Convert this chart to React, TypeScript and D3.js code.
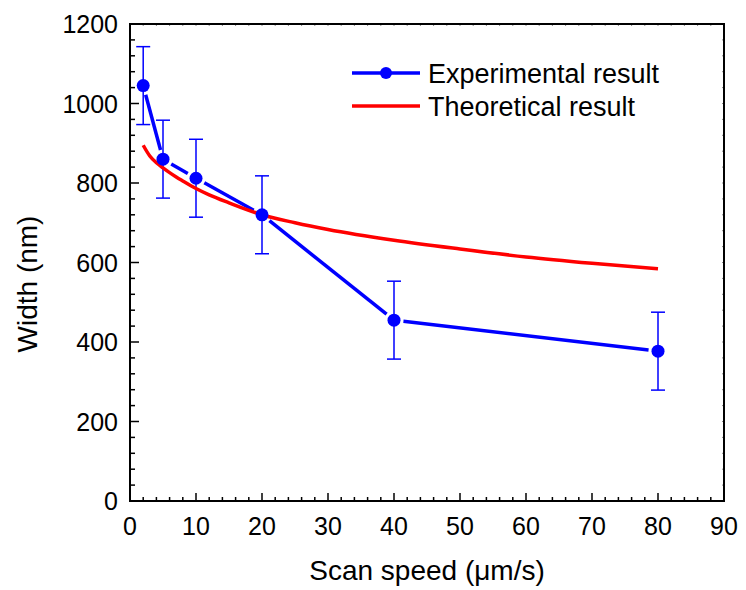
import React from "react";
import * as d3 from "d3";

const speeds = [2, 5, 10, 20, 40, 80];
const widths = [1045, 860, 812, 720, 455, 377];
const errors = [98, 98, 98, 98, 98, 98];

const theoX = [2, 3, 4, 5, 6, 7, 8, 10, 12, 15, 20, 25, 30, 40, 50, 60, 70, 80];
const theoY = [895, 868, 851, 838, 826, 815, 805, 786, 770, 750, 720, 700, 683, 656, 634, 614, 598, 584];

const xTicks = [0, 10, 20, 30, 40, 50, 60, 70, 80, 90];
const yTicks = [0, 200, 400, 600, 800, 1000, 1200];

const legendLabels = ["Experimental result", "Theoretical result"];
const xTitle = "Scan speed (\u03bcm/s)";
const yTitle = "Width (nm)";

const W = 746, H = 590;
const L = 130, R = 724, T = 24, B = 501;
const FONT = "Liberation Sans, Arial, sans-serif";

export default function App() {
  const x = d3.scaleLinear().domain([0, 90]).range([L, R]);
  const y = d3.scaleLinear().domain([0, 1200]).range([B, T]);

  const xMinor = d3.range(0, 91, 2);
  const yMinor = d3.range(0, 1201, 40);

  const theoLine = d3.line<number>()
    .x((_, i) => x(theoX[i]))
    .y((d) => y(d))
    .curve(d3.curveMonotoneX)(theoY) as string;

  const pts = speeds.map((s, i) => [x(s), y(widths[i])]);
  const r = 6.5;
  const gap = r + 3;
  const segs = pts.slice(0, -1).map((p, i) => {
    const q = pts[i + 1];
    const dx = q[0] - p[0], dy = q[1] - p[1];
    const len = Math.hypot(dx, dy);
    const ux = dx / len, uy = dy / len;
    return [p[0] + ux * gap, p[1] + uy * gap, q[0] - ux * gap, q[1] - uy * gap];
  });

  return (
    <svg width={W} height={H} style={{ position: "absolute", left: 0, top: 0, background: "#fff" }}>
      <defs>
        <clipPath id="plot"><rect x={L} y={T} width={R - L} height={B - T} /></clipPath>
      </defs>
      {xMinor.map((v) => {
        const major = v % 10 === 0;
        return (
          <g key={"xm" + v}>
            <line x1={x(v)} x2={x(v)} y1={B} y2={B - (major ? 8 : 4)} stroke="#000" strokeWidth={1.5} />
            <line x1={x(v)} x2={x(v)} y1={T} y2={T + 2} stroke="#888" strokeWidth={1} />
          </g>
        );
      })}
      {yMinor.map((v) => {
        const major = v % 200 === 0;
        return (
          <g key={"ym" + v}>
            <line x1={L} x2={L + (major ? 9 : 5)} y1={y(v)} y2={y(v)} stroke="#000" strokeWidth={1.5} />
            <line x1={R} x2={R - 2} y1={y(v)} y2={y(v)} stroke="#888" strokeWidth={1} />
          </g>
        );
      })}
      <rect x={L} y={T} width={R - L} height={B - T} fill="none" stroke="#000" strokeWidth={2} />

      {xTicks.map((v) => (
        <text key={"xt" + v} x={x(v)} y={535} textAnchor="middle" fontFamily={FONT} fontSize={25} fill="#000">{v}</text>
      ))}
      {yTicks.map((v) => (
        <text key={"yt" + v} x={L - 12} y={y(v) + 9} textAnchor="end" fontFamily={FONT} fontSize={25} fill="#000">{v}</text>
      ))}

      <text x={427} y={580} textAnchor="middle" fontFamily={FONT} fontSize={28} fill="#000">{xTitle}</text>
      <text transform={`translate(37,284) rotate(-90)`} textAnchor="middle" fontFamily={FONT} fontSize={28} fill="#000">{yTitle}</text>

      <g clipPath="url(#plot)">
        {speeds.map((s, i) => {
          const cx = x(s);
          const y1 = y(widths[i] + errors[i]);
          const y2 = y(widths[i] - errors[i]);
          return (
            <g key={"eb" + i} stroke="#0000ff" strokeWidth={1.5}>
              <line x1={cx} x2={cx} y1={y1} y2={y2} />
              <line x1={cx - 7} x2={cx + 7} y1={y1} y2={y1} />
              <line x1={cx - 7} x2={cx + 7} y1={y2} y2={y2} />
            </g>
          );
        })}
        {segs.map((s, i) => (
          <line key={"sg" + i} x1={s[0]} y1={s[1]} x2={s[2]} y2={s[3]} stroke="#0000ff" strokeWidth={3.5} />
        ))}
        <path d={theoLine} fill="none" stroke="#ff0000" strokeWidth={3.5} />
        {pts.map((p, i) => (
          <circle key={"pt" + i} cx={p[0]} cy={p[1]} r={r} fill="#0000ff" />
        ))}
      </g>

      <g>
        <line x1={352} x2={420} y1={73} y2={73} stroke="#0000ff" strokeWidth={3.5} />
        <circle cx={386} cy={73} r={6} fill="#0000ff" />
        <text x={428} y={83} fontFamily={FONT} fontSize={27} fill="#000">{legendLabels[0]}</text>
        <line x1={352} x2={420} y1={106} y2={106} stroke="#ff0000" strokeWidth={3.5} />
        <text x={428} y={116} fontFamily={FONT} fontSize={27} fill="#000">{legendLabels[1]}</text>
      </g>
    </svg>
  );
}
